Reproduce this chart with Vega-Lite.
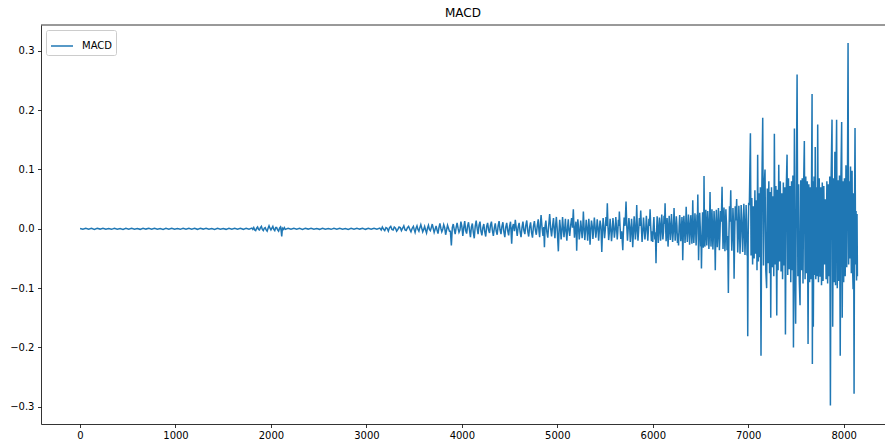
{
  "$schema": "https://vega.github.io/schema/vega-lite/v6.json",
  "width": 844,
  "height": 399,
  "autosize": {"type": "none"},
  "padding": {"left": 41, "top": 25, "right": 0, "bottom": 22},
  "background": "white",
  "title": {"text": "MACD", "fontSize": 12, "font": "DejaVu Sans", "fontWeight": "normal", "color": "#000", "offset": 5, "anchor": "middle"},
  "config": {
    "view": {"stroke": null},
    "axis": {"grid": false, "domainColor": "#000", "domainWidth": 0.8, "tickColor": "#000", "tickWidth": 0.8, "tickSize": 3.5, "labelFont": "DejaVu Sans", "labelFontSize": 10, "labelColor": "#000", "title": null},
    "legend": {"orient": "top-left", "offset": 5, "fillColor": "white", "strokeColor": "#cccccc", "cornerRadius": 2, "padding": 4, "symbolType": "stroke", "symbolStrokeWidth": 1.5, "symbolSize": 484, "labelFont": "DejaVu Sans", "labelFontSize": 10, "labelColor": "#000", "labelOffset": 8, "title": null}
  },
  "layer": [
    {
      "data": {"values": [
        {"t":0,"v":0.0005},{"t":30,"v":-0.0008},{"t":60,"v":0.0009},{"t":90,"v":-0.0006},{"t":120,"v":0.0007},{"t":150,"v":-0.001},{"t":180,"v":0.0008},{"t":210,"v":-0.0005},{"t":240,"v":0.001},{"t":270,"v":-0.0008},{"t":300,"v":0.0006},{"t":330,"v":-0.0009},{"t":360,"v":0.0008},{"t":390,"v":-0.0007},{"t":420,"v":0.0005},{"t":450,"v":-0.001},{"t":480,"v":0.0009},{"t":510,"v":-0.0006},{"t":540,"v":0.0008},{"t":570,"v":-0.0008},{"t":600,"v":0.0006},{"t":630,"v":-0.0009},{"t":660,"v":0.001},{"t":690,"v":-0.0005},{"t":720,"v":0.0007},{"t":750,"v":-0.0008},{"t":780,"v":0.0009},{"t":810,"v":-0.0007},{"t":840,"v":0.0006},{"t":870,"v":-0.001},{"t":900,"v":0.0008},{"t":930,"v":-0.0006},{"t":960,"v":0.0009},{"t":990,"v":-0.0008},{"t":1020,"v":0.0005},{"t":1050,"v":-0.0009},{"t":1080,"v":0.0008},{"t":1110,"v":-0.0007},{"t":1140,"v":0.001},{"t":1170,"v":-0.0006},{"t":1200,"v":0.0007},{"t":1230,"v":-0.0009},{"t":1260,"v":0.0008},{"t":1290,"v":-0.0005},{"t":1320,"v":0.0009},{"t":1350,"v":-0.0008},{"t":1380,"v":0.0006},{"t":1410,"v":-0.001},{"t":1440,"v":0.0008},{"t":1470,"v":-0.0007},{"t":1500,"v":0.0005},{"t":1530,"v":-0.0009},{"t":1560,"v":0.001},{"t":1590,"v":-0.0006},{"t":1620,"v":0.0008},{"t":1650,"v":-0.0008},{"t":1680,"v":0.0007},{"t":1710,"v":-0.0009},{"t":1740,"v":0.0009},{"t":1770,"v":-0.0007},{"t":1800,"v":0.0012},
        {"t":1810,"v":-0.001},{"t":1820,"v":0.002},{"t":1830,"v":-0.002},{"t":1840,"v":-0.003},{"t":1850,"v":0.001},{"t":1860,"v":0.003},{"t":1870,"v":-0.001},{"t":1880,"v":-0.002},{"t":1890,"v":0.002},{"t":1900,"v":0.004},{"t":1910,"v":-0.001},{"t":1920,"v":-0.003},{"t":1930,"v":0.001},{"t":1940,"v":0.002},{"t":1950,"v":-0.002},{"t":1960,"v":-0.004},{"t":1970,"v":0.001},{"t":1980,"v":0.005},{"t":1990,"v":0.001},{"t":2000,"v":-0.002},{"t":2010,"v":0.001},{"t":2020,"v":0.004},{"t":2030,"v":-0.001},{"t":2040,"v":-0.003},{"t":2050,"v":0.002},{"t":2060,"v":0.002},{"t":2070,"v":-0.002},{"t":2080,"v":-0.004},{"t":2090,"v":0.001},{"t":2100,"v":0.003},{"t":2106,"v":-0.002},{"t":2113,"v":-0.013},{"t":2120,"v":0.001},{"t":2130,"v":-0.001},{"t":2140,"v":0.002},{"t":2150,"v":-0.001},
        {"t":2180,"v":0.0008},{"t":2210,"v":-0.0008},{"t":2240,"v":0.001},{"t":2270,"v":-0.0006},{"t":2300,"v":0.0007},{"t":2330,"v":-0.001},{"t":2360,"v":0.0008},{"t":2390,"v":-0.0005},{"t":2420,"v":0.0009},{"t":2450,"v":-0.0008},{"t":2480,"v":0.0006},{"t":2510,"v":-0.0009},{"t":2540,"v":0.001},{"t":2570,"v":-0.0007},{"t":2600,"v":0.0005},{"t":2630,"v":-0.0009},{"t":2660,"v":0.0008},{"t":2690,"v":-0.0006},{"t":2720,"v":0.0009},{"t":2750,"v":-0.0008},{"t":2780,"v":0.0006},{"t":2810,"v":-0.001},{"t":2840,"v":0.0008},{"t":2870,"v":-0.0007},{"t":2900,"v":0.0009},{"t":2930,"v":-0.0005},{"t":2960,"v":0.0008},{"t":2990,"v":-0.0009},{"t":3020,"v":0.0007},{"t":3050,"v":-0.0008},{"t":3080,"v":0.001},{"t":3110,"v":-0.0007},{"t":3140,"v":0.0012},
        {"t":3155,"v":-0.002},{"t":3167,"v":0.003},{"t":3180,"v":-0.001},{"t":3192,"v":-0.003},{"t":3205,"v":0.002},{"t":3217,"v":0.001},{"t":3230,"v":-0.004},{"t":3242,"v":0.002},{"t":3255,"v":0.004},{"t":3267,"v":-0.001},{"t":3280,"v":-0.002},{"t":3292,"v":0.003},{"t":3305,"v":0.001},{"t":3317,"v":-0.004},{"t":3330,"v":-0.001},{"t":3342,"v":0.003},{"t":3355,"v":0.002},{"t":3367,"v":-0.003},{"t":3380,"v":0.001},{"t":3392,"v":0.005},{"t":3405,"v":-0.002},{"t":3417,"v":-0.003},{"t":3430,"v":0.002},{"t":3442,"v":0.004},{"t":3455,"v":-0.001},{"t":3467,"v":-0.005},{"t":3480,"v":0.001},{"t":3492,"v":0.004},
        {"t":3500,"v":-0.001},{"t":3510,"v":-0.006},{"t":3520,"v":0.001},{"t":3530,"v":0.005},{"t":3540,"v":-0.001},{"t":3550,"v":-0.004},{"t":3560,"v":0.002},{"t":3570,"v":0.007},{"t":3580,"v":0.001},{"t":3590,"v":-0.005},{"t":3600,"v":-0.001},{"t":3610,"v":0.004},{"t":3620,"v":-0.002},{"t":3630,"v":-0.007},{"t":3640,"v":0.001},{"t":3650,"v":0.006},{"t":3660,"v":-0.001},{"t":3670,"v":-0.003},{"t":3680,"v":0.002},{"t":3690,"v":0.008},{"t":3700,"v":0.001},{"t":3710,"v":-0.006},{"t":3720,"v":-0.001},{"t":3730,"v":0.005},{"t":3740,"v":-0.002},{"t":3750,"v":-0.008},{"t":3760,"v":0.002},{"t":3770,"v":0.009},{"t":3780,"v":0.001},{"t":3790,"v":-0.005},{"t":3800,"v":-0.001},{"t":3810,"v":0.007},{"t":3820,"v":0.002},{"t":3830,"v":-0.01},{"t":3840,"v":-0.002},{"t":3850,"v":0.006},{"t":3860,"v":0.001},{"t":3870,"v":-0.004},{"t":3880,"v":-0.004},{"t":3890,"v":-0.028},{"t":3900,"v":0.002},{"t":3910,"v":0.008},{"t":3920,"v":-0.001},{"t":3930,"v":-0.009},{"t":3940,"v":0.002},{"t":3950,"v":0.01},{"t":3960,"v":0.001},{"t":3970,"v":-0.006},{"t":3980,"v":-0.002},{"t":3990,"v":0.012},
        {"t":4000,"v":0.004},{"t":4010,"v":-0.012},{"t":4020,"v":0.002},{"t":4030,"v":0.013},{"t":4040,"v":-0.003},{"t":4050,"v":-0.008},{"t":4060,"v":0.005},{"t":4070,"v":0.011},{"t":4080,"v":-0.002},{"t":4090,"v":-0.014},{"t":4100,"v":0.003},{"t":4110,"v":0.009},{"t":4120,"v":-0.006},{"t":4130,"v":-0.016},{"t":4140,"v":0.004},{"t":4150,"v":0.014},{"t":4160,"v":0.001},{"t":4170,"v":-0.009},{"t":4180,"v":0.006},{"t":4190,"v":0.012},{"t":4200,"v":-0.004},{"t":4210,"v":-0.011},{"t":4220,"v":0.002},{"t":4230,"v":0.008},{"t":4240,"v":-0.005},{"t":4250,"v":-0.013},{"t":4260,"v":0.004},{"t":4270,"v":0.01},{"t":4280,"v":-0.002},{"t":4290,"v":-0.007},{"t":4300,"v":0.006},{"t":4310,"v":0.012},{"t":4320,"v":-0.003},{"t":4330,"v":-0.012},{"t":4340,"v":0.001},{"t":4350,"v":0.009},{"t":4360,"v":-0.004},{"t":4370,"v":-0.01},{"t":4380,"v":0.005},{"t":4390,"v":0.013},{"t":4400,"v":-0.002},{"t":4410,"v":-0.009},{"t":4420,"v":0.004},{"t":4430,"v":0.011},{"t":4440,"v":-0.005},{"t":4450,"v":-0.014},{"t":4460,"v":0.003},{"t":4470,"v":0.01},{"t":4480,"v":-0.003},{"t":4490,"v":-0.011},{"t":4500,"v":0.004},{"t":4510,"v":0.012},{"t":4516,"v":-0.006},{"t":4522,"v":-0.025},{"t":4530,"v":0.002},{"t":4540,"v":0.008},{"t":4550,"v":-0.004},{"t":4560,"v":0.015},{"t":4570,"v":0.001},{"t":4580,"v":-0.012},{"t":4590,"v":0.003},{"t":4600,"v":0.01},{"t":4610,"v":-0.005},{"t":4620,"v":-0.014},{"t":4630,"v":0.002},{"t":4640,"v":0.012},{"t":4650,"v":-0.003},{"t":4660,"v":-0.009},{"t":4670,"v":0.006},{"t":4680,"v":0.014},{"t":4690,"v":-0.004},{"t":4700,"v":-0.013},{"t":4710,"v":0.003},{"t":4720,"v":0.011},{"t":4730,"v":-0.006},{"t":4740,"v":-0.015},{"t":4750,"v":0.004},{"t":4760,"v":0.013},{"t":4770,"v":-0.002},{"t":4780,"v":-0.01},{"t":4790,"v":0.005},{"t":4800,"v":0.016},{"t":4808,"v":-0.004},{"t":4815,"v":-0.014},{"t":4822,"v":0.006},{"t":4830,"v":0.023},{"t":4840,"v":0.002},{"t":4850,"v":-0.012},{"t":4858,"v":0.003},{"t":4865,"v":-0.031},{"t":4872,"v":0.004},{"t":4880,"v":0.014},{"t":4890,"v":-0.005},{"t":4900,"v":-0.015},{"t":4910,"v":0.006},{"t":4920,"v":0.025},{"t":4930,"v":0.001},{"t":4940,"v":-0.013},{"t":4950,"v":0.004},{"t":4960,"v":0.018},{"t":4968,"v":-0.004},{"t":4975,"v":-0.016},{"t":4982,"v":0.005},{"t":4990,"v":0.02},{"t":4998,"v":0.002},
        {"t":5011,"v":-0.038},{"t":5018,"v":-0.004},{"t":5025,"v":0.015},{"t":5032,"v":0.002},{"t":5040,"v":-0.018},{"t":5048,"v":-0.003},{"t":5055,"v":0.02},{"t":5062,"v":0.004},{"t":5070,"v":-0.014},{"t":5078,"v":0.001},{"t":5085,"v":0.017},{"t":5092,"v":-0.005},{"t":5100,"v":-0.02},{"t":5108,"v":0.003},{"t":5115,"v":0.016},{"t":5122,"v":-0.002},{"t":5130,"v":-0.012},{"t":5140,"v":0.006},{"t":5150,"v":0.018},{"t":5159,"v":0.002},{"t":5168,"v":0.033},{"t":5174,"v":0.004},{"t":5180,"v":-0.015},{"t":5188,"v":0.001},{"t":5195,"v":0.012},{"t":5199,"v":-0.006},{"t":5203,"v":-0.037},{"t":5209,"v":-0.002},{"t":5215,"v":0.016},{"t":5222,"v":0.003},{"t":5230,"v":-0.018},{"t":5238,"v":-0.004},{"t":5245,"v":0.014},{"t":5252,"v":0.002},{"t":5260,"v":-0.016},{"t":5266,"v":-0.003},{"t":5273,"v":0.029},{"t":5280,"v":0.004},{"t":5288,"v":-0.019},{"t":5296,"v":-0.002},{"t":5303,"v":0.015},{"t":5310,"v":0.003},{"t":5318,"v":-0.02},{"t":5324,"v":-0.004},{"t":5330,"v":0.017},{"t":5336,"v":0.002},{"t":5343,"v":-0.027},{"t":5350,"v":-0.003},{"t":5358,"v":0.014},{"t":5366,"v":0.004},{"t":5373,"v":-0.017},{"t":5380,"v":-0.002},{"t":5388,"v":0.019},{"t":5396,"v":0.003},{"t":5403,"v":-0.015},{"t":5410,"v":-0.004},{"t":5418,"v":0.016},{"t":5426,"v":0.002},{"t":5433,"v":-0.02},{"t":5440,"v":-0.003},{"t":5448,"v":0.014},{"t":5457,"v":0.004},{"t":5466,"v":-0.039},{"t":5473,"v":-0.005},{"t":5480,"v":0.018},{"t":5488,"v":0.002},{"t":5495,"v":-0.016},{"t":5502,"v":-0.003},{"t":5510,"v":0.02},{"t":5517,"v":0.005},{"t":5524,"v":0.043},{"t":5531,"v":0.003},{"t":5538,"v":-0.019},{"t":5546,"v":-0.004},{"t":5553,"v":0.017},{"t":5560,"v":0.002},{"t":5568,"v":-0.021},{"t":5576,"v":-0.003},{"t":5583,"v":0.018},{"t":5590,"v":0.004},{"t":5598,"v":-0.015},{"t":5606,"v":-0.002},{"t":5613,"v":0.02},{"t":5620,"v":0.003},{"t":5628,"v":-0.018},{"t":5634,"v":-0.004},{"t":5640,"v":0.015},{"t":5645,"v":0.005},{"t":5650,"v":0.029},{"t":5658,"v":0.002},{"t":5665,"v":-0.017},{"t":5675,"v":-0.004},{"t":5686,"v":-0.036},{"t":5693,"v":-0.003},{"t":5700,"v":0.019},{"t":5710,"v":0.005},{"t":5720,"v":0.046},{"t":5728,"v":0.004},{"t":5735,"v":-0.02},{"t":5742,"v":-0.002},{"t":5750,"v":0.018},{"t":5758,"v":0.003},{"t":5765,"v":-0.022},{"t":5772,"v":-0.004},{"t":5778,"v":0.017},{"t":5784,"v":0.002},{"t":5790,"v":-0.031},{"t":5798,"v":-0.005},{"t":5805,"v":0.021},{"t":5812,"v":0.003},{"t":5818,"v":-0.018},{"t":5825,"v":-0.002},{"t":5832,"v":0.04},{"t":5838,"v":0.004},{"t":5845,"v":-0.02},{"t":5852,"v":-0.003},{"t":5860,"v":0.018},{"t":5867,"v":0.005},{"t":5874,"v":0.031},{"t":5881,"v":0.002},{"t":5888,"v":-0.022},{"t":5896,"v":-0.004},{"t":5903,"v":0.019},{"t":5910,"v":0.003},{"t":5918,"v":-0.018},{"t":5926,"v":-0.002},{"t":5933,"v":0.022},{"t":5940,"v":0.004},{"t":5948,"v":-0.02},{"t":5954,"v":-0.003},{"t":5960,"v":0.017},{"t":5966,"v":0.005},{"t":5972,"v":0.033},{"t":5979,"v":0.002},{"t":5986,"v":-0.021},{"t":5993,"v":-0.004},
        {"t":6000,"v":-0.022},{"t":6006,"v":0.004},{"t":6012,"v":0.02},{"t":6017,"v":-0.003},{"t":6022,"v":-0.018},{"t":6028,"v":-0.006},{"t":6034,"v":-0.058},{"t":6040,"v":-0.005},{"t":6046,"v":0.021},{"t":6052,"v":0.003},{"t":6058,"v":-0.024},{"t":6064,"v":-0.004},{"t":6070,"v":0.019},{"t":6076,"v":0.006},{"t":6082,"v":-0.02},{"t":6088,"v":-0.002},{"t":6094,"v":0.024},{"t":6100,"v":0.005},{"t":6106,"v":-0.018},{"t":6112,"v":-0.006},{"t":6118,"v":0.022},{"t":6124,"v":0.008},{"t":6129,"v":0.043},{"t":6135,"v":0.002},{"t":6140,"v":-0.021},{"t":6145,"v":-0.004},{"t":6150,"v":0.018},{"t":6155,"v":0.003},{"t":6160,"v":-0.03},{"t":6166,"v":-0.005},{"t":6172,"v":0.022},{"t":6178,"v":0.006},{"t":6184,"v":-0.019},{"t":6190,"v":-0.003},{"t":6196,"v":0.025},{"t":6202,"v":0.004},{"t":6208,"v":-0.022},{"t":6215,"v":-0.006},{"t":6223,"v":0.035},{"t":6229,"v":0.005},{"t":6235,"v":-0.02},{"t":6241,"v":-0.002},{"t":6247,"v":0.021},{"t":6253,"v":0.006},{"t":6259,"v":-0.024},{"t":6264,"v":-0.008},{"t":6270,"v":-0.028},{"t":6276,"v":0.003},{"t":6282,"v":0.023},{"t":6288,"v":0.005},{"t":6294,"v":-0.021},{"t":6300,"v":-0.004},{"t":6306,"v":0.02},{"t":6310,"v":0.006},{"t":6314,"v":-0.053},{"t":6320,"v":-0.007},{"t":6326,"v":0.022},{"t":6332,"v":0.004},{"t":6338,"v":-0.024},{"t":6344,"v":-0.005},{"t":6350,"v":0.037},{"t":6356,"v":0.006},{"t":6362,"v":-0.022},{"t":6368,"v":-0.003},{"t":6374,"v":0.024},{"t":6380,"v":0.007},{"t":6386,"v":-0.027},{"t":6392,"v":-0.006},{"t":6398,"v":0.023},{"t":6404,"v":0.004},{"t":6410,"v":-0.025},{"t":6414,"v":-0.005},{"t":6419,"v":0.048},{"t":6424,"v":0.008},{"t":6430,"v":-0.024},{"t":6436,"v":-0.004},{"t":6442,"v":0.026},{"t":6448,"v":0.006},{"t":6454,"v":-0.028},{"t":6459,"v":-0.007},{"t":6464,"v":0.024},{"t":6468,"v":0.009},{"t":6472,"v":0.058},{"t":6476,"v":0.01},{"t":6480,"v":-0.053},{"t":6486,"v":-0.006},{"t":6492,"v":0.027},{"t":6497,"v":0.005},{"t":6502,"v":-0.03},{"t":6506,"v":-0.01},{"t":6510,"v":-0.067},{"t":6516,"v":-0.008},{"t":6522,"v":0.028},{"t":6526,"v":0.006},{"t":6530,"v":-0.032},{"t":6534,"v":-0.004},{"t":6537,"v":0.089},{"t":6541,"v":0.009},{"t":6546,"v":-0.03},{"t":6551,"v":-0.008},{"t":6556,"v":0.032},{"t":6561,"v":0.007},{"t":6566,"v":-0.028},{"t":6571,"v":-0.005},{"t":6576,"v":0.03},{"t":6582,"v":0.01},{"t":6588,"v":-0.034},{"t":6594,"v":-0.006},{"t":6600,"v":0.062},{"t":6605,"v":0.008},{"t":6610,"v":-0.03},{"t":6615,"v":-0.009},{"t":6620,"v":0.033},{"t":6625,"v":0.006},{"t":6630,"v":-0.035},{"t":6636,"v":-0.008},{"t":6642,"v":0.03},{"t":6648,"v":0.01},{"t":6655,"v":-0.07},{"t":6660,"v":-0.01},{"t":6666,"v":0.032},{"t":6671,"v":0.007},{"t":6676,"v":-0.031},{"t":6682,"v":-0.009},{"t":6688,"v":0.035},{"t":6693,"v":0.008},{"t":6698,"v":-0.036},{"t":6704,"v":-0.01},{"t":6710,"v":0.03},{"t":6718,"v":0.012},{"t":6726,"v":0.071},{"t":6731,"v":0.01},{"t":6736,"v":-0.034},{"t":6741,"v":-0.008},{"t":6746,"v":0.036},{"t":6751,"v":0.009},{"t":6756,"v":-0.038},{"t":6761,"v":-0.012},{"t":6766,"v":0.033},{"t":6772,"v":0.01},{"t":6778,"v":-0.036},{"t":6785,"v":-0.012},{"t":6792,"v":-0.108},{"t":6798,"v":-0.01},{"t":6804,"v":0.038},{"t":6810,"v":0.012},{"t":6817,"v":0.065},{"t":6822,"v":0.01},{"t":6828,"v":-0.037},{"t":6834,"v":-0.011},{"t":6840,"v":0.035},{"t":6846,"v":0.009},{"t":6852,"v":-0.084},{"t":6858,"v":-0.012},{"t":6864,"v":0.038},{"t":6871,"v":0.014},{"t":6879,"v":0.05},{"t":6884,"v":0.012},{"t":6890,"v":-0.04},{"t":6896,"v":-0.013},{"t":6902,"v":0.039},{"t":6908,"v":0.01},{"t":6914,"v":-0.042},{"t":6920,"v":-0.012},{"t":6926,"v":0.04},{"t":6934,"v":0.014},{"t":6942,"v":-0.039},{"t":6948,"v":-0.01},{"t":6954,"v":0.042},{"t":6960,"v":0.013},{"t":6966,"v":-0.044},{"t":6972,"v":-0.011},{"t":6978,"v":0.04},{"t":6983,"v":0.012},{"t":6988,"v":-0.045},{"t":6991,"v":-0.015},{"t":6995,"v":-0.181},{"t":7000,"v":-0.01},{"t":7005,"v":0.044},
        {"t":7012,"v":0.04},{"t":7023,"v":0.161},{"t":7030,"v":-0.045},{"t":7038,"v":0.052},{"t":7046,"v":-0.06},{"t":7054,"v":0.038},{"t":7062,"v":-0.05},{"t":7070,"v":0.065},{"t":7078,"v":-0.042},{"t":7086,"v":0.048},{"t":7092,"v":-0.07},{"t":7099,"v":0.125},{"t":7106,"v":-0.055},{"t":7114,"v":0.06},{"t":7120,"v":-0.048},{"t":7127,"v":0.07},{"t":7134,"v":-0.214},{"t":7142,"v":0.058},{"t":7152,"v":0.187},{"t":7160,"v":-0.062},{"t":7168,"v":0.075},{"t":7176,"v":0.1},{"t":7184,"v":-0.07},{"t":7193,"v":-0.1},{"t":7200,"v":0.068},{"t":7208,"v":-0.058},{"t":7216,"v":0.08},{"t":7224,"v":-0.075},{"t":7230,"v":0.062},{"t":7236,"v":-0.15},{"t":7244,"v":0.07},{"t":7252,"v":-0.065},{"t":7260,"v":0.055},{"t":7268,"v":-0.08},{"t":7274,"v":0.16},{"t":7282,"v":-0.06},{"t":7290,"v":0.072},{"t":7299,"v":-0.146},{"t":7306,"v":0.066},{"t":7313,"v":-0.07},{"t":7320,"v":0.108},{"t":7328,"v":-0.055},{"t":7336,"v":0.08},{"t":7344,"v":-0.072},{"t":7352,"v":0.06},{"t":7360,"v":-0.085},{"t":7368,"v":0.078},{"t":7376,"v":-0.062},{"t":7383,"v":0.07},{"t":7390,"v":-0.178},{"t":7398,"v":0.065},{"t":7407,"v":0.125},{"t":7414,"v":-0.078},{"t":7422,"v":0.085},{"t":7430,"v":-0.068},{"t":7438,"v":0.072},{"t":7446,"v":-0.09},{"t":7454,"v":0.08},{"t":7462,"v":-0.07},{"t":7468,"v":0.09},{"t":7474,"v":-0.2},{"t":7484,"v":0.169},{"t":7490,"v":-0.075},{"t":7497,"v":-0.16},{"t":7505,"v":0.085},{"t":7512,"v":0.26},{"t":7520,"v":-0.08},{"t":7528,"v":0.075},{"t":7535,"v":-0.088},{"t":7543,"v":-0.129},{"t":7550,"v":0.082},{"t":7558,"v":-0.07},{"t":7566,"v":0.085},{"t":7574,"v":-0.092},{"t":7581,"v":0.078},{"t":7588,"v":0.148},{"t":7596,"v":-0.085},{"t":7603,"v":0.088},{"t":7611,"v":-0.075},{"t":7619,"v":0.08},{"t":7627,"v":-0.194},{"t":7635,"v":0.075},{"t":7643,"v":-0.09},{"t":7650,"v":0.07},{"t":7658,"v":-0.085},{"t":7664,"v":0.095},{"t":7669,"v":0.227},{"t":7672,"v":-0.228},{"t":7677,"v":0.08},{"t":7682,"v":-0.165},{"t":7690,"v":0.088},{"t":7698,"v":-0.078},{"t":7702,"v":0.138},{"t":7708,"v":-0.085},{"t":7714,"v":0.07},{"t":7721,"v":-0.08},{"t":7728,"v":0.176},{"t":7736,"v":-0.09},{"t":7744,"v":0.085},{"t":7753,"v":-0.081},{"t":7760,"v":0.07},{"t":7768,"v":-0.095},{"t":7776,"v":0.078},{"t":7784,"v":-0.088},{"t":7792,"v":0.072},{"t":7800,"v":-0.06},{"t":7808,"v":0.05},{"t":7816,"v":-0.085},{"t":7824,"v":0.08},{"t":7832,"v":-0.092},{"t":7840,"v":0.075},{"t":7848,"v":-0.08},{"t":7854,"v":0.088},{"t":7861,"v":-0.298},{"t":7868,"v":0.08},{"t":7878,"v":0.184},{"t":7885,"v":-0.165},{"t":7892,"v":0.085},{"t":7900,"v":-0.09},{"t":7908,"v":0.13},{"t":7915,"v":-0.095},{"t":7920,"v":0.09},{"t":7926,"v":0.184},{"t":7933,"v":-0.1},{"t":7940,"v":0.082},{"t":7948,"v":-0.088},{"t":7956,"v":0.09},{"t":7964,"v":-0.214},{"t":7971,"v":0.085},{"t":7979,"v":0.18},{"t":7985,"v":-0.15},{"t":7992,"v":0.08},{"t":8000,"v":-0.09},{"t":8008,"v":0.085},{"t":8016,"v":-0.08},{"t":8024,"v":0.107},{"t":8032,"v":-0.065},{"t":8040,"v":0.09},{"t":8046,"v":0.313},{"t":8052,"v":-0.06},{"t":8058,"v":0.08},{"t":8064,"v":-0.05},{"t":8072,"v":0.105},{"t":8080,"v":-0.075},{"t":8088,"v":0.098},{"t":8094,"v":-0.07},{"t":8099,"v":-0.102},{"t":8104,"v":0.06},{"t":8109,"v":-0.278},{"t":8114,"v":0.04},{"t":8119,"v":0.17},{"t":8125,"v":-0.06},{"t":8130,"v":0.03},{"t":8135,"v":-0.087},{"t":8140,"v":0.025},{"t":8144,"v":-0.08}
      ]},
      "mark": {"type": "line", "strokeWidth": 1.5, "clip": true},
      "encoding": {
        "x": {"field": "t", "type": "quantitative", "scale": {"domain": [-409, 8433], "nice": false, "zero": false},
              "axis": {"values": [0,1000,2000,3000,4000,5000,6000,7000,8000], "format": "d", "labelPadding": 2.5}},
        "y": {"field": "v", "type": "quantitative", "scale": {"domain": [-0.329, 0.3435], "nice": false, "zero": false},
              "axis": {"values": [-0.3,-0.2,-0.1,0,0.1,0.2,0.3], "format": ".1f", "labelPadding": 3.5}},
        "color": {"datum": "MACD", "type": "nominal", "scale": {"range": ["#1f77b4"]}}
      }
    },
    {
      "data": {"values": [{"top": 0.3435}]},
      "mark": {"type": "rule", "color": "#000", "strokeWidth": 0.8},
      "encoding": {"y": {"field": "top", "type": "quantitative"}}
    }
  ]
}
